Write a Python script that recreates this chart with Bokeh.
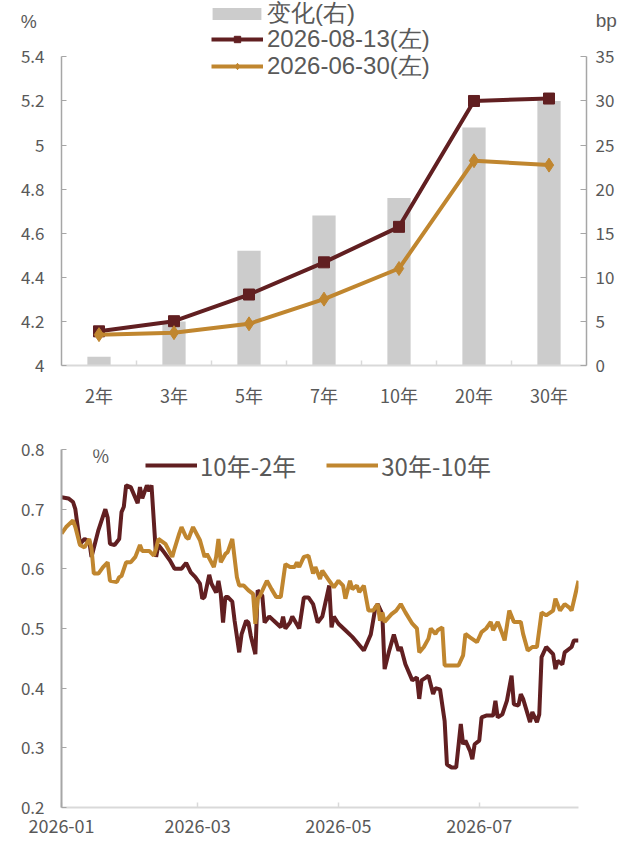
import pandas as pd
from bokeh.plotting import figure
from bokeh.models import (Range1d, LinearAxis, FixedTicker, Legend, LegendItem,
                          Label, DatetimeTickFormatter)
from bokeh.embed import file_html
from bokeh.resources import INLINE

# ---------------- data: top chart ----------------
tenors = ["2年", "3年", "5年", "7年", "10年", "20年", "30年"]
yield_0813 = [4.155, 4.201, 4.322, 4.468, 4.629, 5.200, 5.211]
yield_0630 = [4.140, 4.149, 4.189, 4.301, 4.440, 4.929, 4.909]
change_bp = [1, 5, 13, 17, 19, 27, 30]
left_tick_labels = ["4", "4.2", "4.4", "4.6", "4.8", "5", "5.2", "5.4"]
right_tick_labels = ["0", "5", "10", "15", "20", "25", "30", "35"]
series_names_top = ["变化(右)", "2026-08-13(左)", "2026-06-30(左)"]

# ---------------- data: bottom chart ----------------
dates_10y2y = [
    "2026-01-01", "2026-01-04", "2026-01-06", "2026-01-07", "2026-01-09", "2026-01-11", "2026-01-13",
    "2026-01-14", "2026-01-17", "2026-01-20", "2026-01-21", "2026-01-22", "2026-01-24", "2026-01-26",
    "2026-01-27", "2026-01-28", "2026-01-29", "2026-01-31",
    "2026-02-03", "2026-02-04", "2026-02-05", "2026-02-07", "2026-02-08", "2026-02-09", "2026-02-11",
    "2026-02-12", "2026-02-14", "2026-02-17", "2026-02-19", "2026-02-22", "2026-02-24", "2026-02-26",
    "2026-02-28",
    "2026-03-02", "2026-03-03", "2026-03-04", "2026-03-06", "2026-03-07", "2026-03-09", "2026-03-10",
    "2026-03-11", "2026-03-12", "2026-03-13", "2026-03-14", "2026-03-16", "2026-03-17", "2026-03-19",
    "2026-03-20", "2026-03-22", "2026-03-23", "2026-03-24", "2026-03-26", "2026-03-27", "2026-03-29",
    "2026-03-30",
    "2026-04-01", "2026-04-03", "2026-04-06", "2026-04-07", "2026-04-08", "2026-04-10", "2026-04-11",
    "2026-04-14", "2026-04-16", "2026-04-18", "2026-04-20", "2026-04-22", "2026-04-24", "2026-04-27",
    "2026-04-28", "2026-04-29",
    "2026-05-01", "2026-05-04", "2026-05-07", "2026-05-09", "2026-05-12", "2026-05-13", "2026-05-15",
    "2026-05-17", "2026-05-18", "2026-05-20", "2026-05-21", "2026-05-23", "2026-05-25", "2026-05-27",
    "2026-05-28", "2026-05-30",
    "2026-06-02", "2026-06-04", "2026-06-05", "2026-06-06", "2026-06-08", "2026-06-09", "2026-06-11",
    "2026-06-12", "2026-06-14", "2026-06-16", "2026-06-17", "2026-06-19", "2026-06-21", "2026-06-23",
    "2026-06-24", "2026-06-25", "2026-06-27", "2026-06-28", "2026-06-29",
    "2026-07-01", "2026-07-02", "2026-07-04", "2026-07-07", "2026-07-08", "2026-07-09", "2026-07-11",
    "2026-07-13", "2026-07-15", "2026-07-16", "2026-07-18", "2026-07-19", "2026-07-20", "2026-07-22",
    "2026-07-23", "2026-07-24", "2026-07-26", "2026-07-27", "2026-07-28", "2026-07-30",
    "2026-08-02", "2026-08-03", "2026-08-04", "2026-08-06", "2026-08-07", "2026-08-10", "2026-08-11",
    "2026-08-13",
]
spread_10y2y = [
    0.72, 0.718, 0.712, 0.70, 0.642, 0.65, 0.647, 0.62, 0.665, 0.70, 0.686, 0.642, 0.64, 0.65,
    0.695, 0.704, 0.74, 0.737,
    0.71, 0.737, 0.718, 0.74, 0.73, 0.74, 0.62, 0.64, 0.63, 0.614, 0.60, 0.60, 0.61, 0.594, 0.586,
    0.575, 0.55, 0.553, 0.59, 0.575, 0.56, 0.58, 0.558, 0.51, 0.553, 0.553, 0.545, 0.513, 0.46,
    0.49, 0.513, 0.51, 0.488, 0.457, 0.564, 0.555, 0.51,
    0.52, 0.513, 0.502, 0.52, 0.50, 0.51, 0.52, 0.50, 0.552, 0.552, 0.541, 0.51, 0.52, 0.572,
    0.502, 0.52,
    0.508, 0.497, 0.486, 0.477, 0.463, 0.472, 0.49, 0.535, 0.541, 0.524, 0.432, 0.463, 0.49,
    0.463, 0.469, 0.44,
    0.413, 0.418, 0.382, 0.413, 0.418, 0.421, 0.39, 0.40, 0.398, 0.345, 0.272, 0.267, 0.267,
    0.34, 0.306, 0.312, 0.295, 0.281, 0.306,
    0.312, 0.351, 0.354, 0.354, 0.379, 0.351, 0.356, 0.379, 0.421, 0.373, 0.371, 0.39, 0.382,
    0.356, 0.343, 0.36, 0.343, 0.356, 0.452, 0.469,
    0.457, 0.432, 0.446, 0.44, 0.46, 0.469, 0.48, 0.48,
]
dates_30y10y = [
    "2026-01-01", "2026-01-03", "2026-01-06", "2026-01-07", "2026-01-09", "2026-01-11", "2026-01-13",
    "2026-01-14", "2026-01-15", "2026-01-17", "2026-01-19", "2026-01-21", "2026-01-22", "2026-01-25",
    "2026-01-26", "2026-01-27", "2026-01-29", "2026-01-31",
    "2026-02-02", "2026-02-04", "2026-02-05", "2026-02-08", "2026-02-10", "2026-02-11", "2026-02-12",
    "2026-02-15", "2026-02-18", "2026-02-19", "2026-02-21", "2026-02-22", "2026-02-24", "2026-02-25",
    "2026-02-27",
    "2026-03-02", "2026-03-04", "2026-03-05", "2026-03-08", "2026-03-09", "2026-03-10", "2026-03-11",
    "2026-03-13", "2026-03-14", "2026-03-16", "2026-03-18", "2026-03-19", "2026-03-21", "2026-03-23",
    "2026-03-25", "2026-03-26", "2026-03-27", "2026-03-28", "2026-03-31",
    "2026-04-02", "2026-04-04", "2026-04-06", "2026-04-08", "2026-04-10", "2026-04-12", "2026-04-13",
    "2026-04-14", "2026-04-16", "2026-04-18", "2026-04-20", "2026-04-21", "2026-04-23", "2026-04-24",
    "2026-04-27", "2026-04-29",
    "2026-05-01", "2026-05-03", "2026-05-04", "2026-05-06", "2026-05-07", "2026-05-09", "2026-05-10",
    "2026-05-12", "2026-05-14", "2026-05-16", "2026-05-18", "2026-05-19", "2026-05-20", "2026-05-21",
    "2026-05-24", "2026-05-26", "2026-05-28", "2026-05-30",
    "2026-06-02", "2026-06-04", "2026-06-05", "2026-06-07", "2026-06-09", "2026-06-10", "2026-06-12",
    "2026-06-13", "2026-06-15", "2026-06-16", "2026-06-22", "2026-06-24", "2026-06-25", "2026-06-27",
    "2026-06-30",
    "2026-07-02", "2026-07-04", "2026-07-06", "2026-07-07", "2026-07-09", "2026-07-11", "2026-07-12",
    "2026-07-14", "2026-07-16", "2026-07-19", "2026-07-20", "2026-07-22", "2026-07-24", "2026-07-26",
    "2026-07-28", "2026-07-30",
    "2026-08-02", "2026-08-03", "2026-08-05", "2026-08-07", "2026-08-09", "2026-08-10", "2026-08-13",
]
spread_30y10y = [
    0.659, 0.67, 0.681, 0.67, 0.64, 0.636, 0.65, 0.634, 0.592, 0.592, 0.603, 0.611, 0.58, 0.578,
    0.586, 0.588, 0.611, 0.611,
    0.62, 0.64, 0.63, 0.63, 0.622, 0.634, 0.65, 0.642, 0.62, 0.634, 0.659, 0.67, 0.653, 0.65, 0.67,
    0.648, 0.62, 0.625, 0.603, 0.62, 0.65, 0.611, 0.625, 0.628, 0.65, 0.586, 0.572, 0.572, 0.564,
    0.558, 0.508, 0.55, 0.555, 0.58,
    0.566, 0.553, 0.553, 0.608, 0.603, 0.603, 0.611, 0.603, 0.62, 0.622, 0.592, 0.603, 0.583,
    0.597, 0.58, 0.569,
    0.58, 0.572, 0.55, 0.58, 0.566, 0.572, 0.561, 0.572, 0.53, 0.53, 0.541, 0.513, 0.527, 0.511,
    0.524, 0.53, 0.541, 0.527,
    0.508, 0.50, 0.46, 0.469, 0.483, 0.50, 0.491, 0.497, 0.502, 0.438, 0.438, 0.455, 0.491, 0.485,
    0.477,
    0.494, 0.50, 0.511, 0.497, 0.511, 0.491, 0.48, 0.53, 0.511, 0.511, 0.491, 0.463, 0.469, 0.469,
    0.527, 0.522,
    0.53, 0.55, 0.53, 0.541, 0.535, 0.53, 0.58,
]
bottom_x_tick_labels = ["2026-01", "2026-03", "2026-05", "2026-07"]
bottom_y_tick_labels = ["0.2", "0.3", "0.4", "0.5", "0.6", "0.7", "0.8"]
series_names_bottom = ["10年-2年", "30年-10年"]

# ---------------- styles ----------------
MAROON = "#611f21"
ORANGE = "#c0862f"
BAR = "#cccccc"
TXT = "#595959"
AX_DARK = "#a6a6a6"
AX_LIGHT = "#d9d9d9"
FONT = "Noto Sans CJK SC"
COMPACT = "Liberation Sans"   # smaller line box: keeps stacked legend rows / side labels compact

# ================= top chart =================
W = 638
H1 = 410
F1_LEFT, F1_RIGHT, F1_BOTTOM = 61, 590, 369
AXIS_TOP_GAP = 57          # pixels between canvas top and the 5.4 / 35 level
y_lo, y_hi = float(left_tick_labels[0]), float(left_tick_labels[-1])
b_lo, b_hi = float(right_tick_labels[0]), float(right_tick_labels[-1])
px_per_y = (F1_BOTTOM - AXIS_TOP_GAP) / (y_hi - y_lo)
px_per_b = (F1_BOTTOM - AXIS_TOP_GAP) / (b_hi - b_lo)
px_per_x = (F1_RIGHT - F1_LEFT) / len(tenors)

xs = [i + 0.5 for i in range(len(tenors))]
p1 = figure(width=W, height=H1, output_backend="svg", toolbar_location=None,
            x_range=Range1d(0, len(tenors)),
            y_range=Range1d(y_lo, y_hi + AXIS_TOP_GAP / px_per_y),
            min_border_left=F1_LEFT, min_border_right=W - F1_RIGHT,
            min_border_top=0, min_border_bottom=H1 - F1_BOTTOM,
            x_axis_location=None, y_axis_location=None)
p1.outline_line_color = None
p1.xgrid.visible = False
p1.ygrid.visible = False
p1.extra_y_ranges = {"bp": Range1d(b_lo, b_hi + AXIS_TOP_GAP / px_per_b)}

bars = p1.vbar(x=xs, top=change_bp, width=0.31, y_range_name="bp",
               fill_color=BAR, line_color=None)
l1 = p1.line(xs, yield_0813, line_color=MAROON, line_width=4)
m1 = p1.scatter(xs, yield_0813, marker="square", size=11, fill_color=MAROON, line_color=MAROON)
l2 = p1.line(xs, yield_0630, line_color=ORANGE, line_width=4)
m2 = p1.scatter(xs, yield_0630, marker="diamond", size=14, fill_color=ORANGE, line_color=ORANGE)

xax = LinearAxis(ticker=FixedTicker(ticks=xs, minor_ticks=list(range(1, len(tenors)))))
xax.major_label_overrides = {x: t for x, t in zip(xs, tenors)}
xax.major_tick_line_color = None
xax.minor_tick_in = 5
xax.minor_tick_out = 0
xax.minor_tick_line_color = AX_LIGHT
xax.minor_tick_line_width = 1.5
xax.axis_line_color = AX_LIGHT
xax.axis_line_width = 2
xax.major_label_standoff = 10
xax.major_label_text_font = FONT
xax.major_label_text_font_size = "18px"
xax.major_label_text_color = TXT
p1.add_layout(xax, "below")

yl = LinearAxis(ticker=FixedTicker(ticks=[float(t) for t in left_tick_labels], minor_ticks=[]),
                bounds=(y_lo, y_hi))
yl.major_label_overrides = {float(t): t for t in left_tick_labels}
yl.major_tick_in = 5
yl.major_tick_out = 0
yl.major_tick_line_color = AX_DARK
yl.axis_line_color = AX_DARK
yl.axis_line_width = 1.5
yl.major_label_standoff = 17
yl.major_label_text_font = FONT
yl.major_label_text_font_size = "17px"
yl.major_label_text_color = TXT
p1.add_layout(yl, "left")

yr = LinearAxis(y_range_name="bp",
                ticker=FixedTicker(ticks=[float(t) for t in right_tick_labels], minor_ticks=[]),
                bounds=(b_lo, b_hi))
yr.major_label_overrides = {float(t): t for t in right_tick_labels}
yr.major_tick_in = 6
yr.major_tick_out = 0
yr.major_tick_line_color = AX_DARK
yr.axis_line_color = AX_DARK
yr.axis_line_width = 1.5
yr.major_label_standoff = 9
yr.major_label_text_font = FONT
yr.major_label_text_font_size = "17px"
yr.major_label_text_color = TXT
p1.add_layout(yr, "right")

# one legend per row, so that rows sit as close as in the reference
ROW_H = 38
row_centers = [17, 43, 70]
glyph_w = [61, 52, 52]
glyph_x = [206, 211, 211]
standoffs = [0, 4, 4]
glyph_h = [15, 16, 16]
for name, rends, cy, gw, gx, so, gh in zip(series_names_top, [[bars], [l1, m1], [l2, m2]],
                                            row_centers, glyph_w, glyph_x, standoffs, glyph_h):
    lg = Legend(items=[LegendItem(label=name, renderers=rends)],
                location=(gx - F1_LEFT, F1_BOTTOM - cy - ROW_H / 2),
                orientation="vertical",
                label_text_font=COMPACT, label_text_font_size="24px", label_text_color=TXT,
                glyph_width=gw, glyph_height=gh, label_height=ROW_H, label_standoff=so,
                spacing=0, padding=0, margin=0, border_line_color=None,
                background_fill_alpha=0)
    p1.add_layout(lg)

# unit labels live in side panels (not clipped by the frame)
p1.add_layout(Label(x=(28 - F1_LEFT) / px_per_x, y=y_hi + (AXIS_TOP_GAP - 22) / px_per_y,
                    text="%", text_align="center", text_baseline="middle",
                    text_font=COMPACT, text_font_size="18px", text_color=TXT), "left")
p1.add_layout(Label(x=len(tenors) + (610 - F1_RIGHT) / px_per_x,
                    y=y_hi + (AXIS_TOP_GAP - 20) / px_per_y, text="bp", text_align="center",
                    text_baseline="middle", text_font=COMPACT, text_font_size="19px",
                    text_color=TXT), "right")

# ================= bottom chart =================
H2 = 437
F2_LEFT, F2_RIGHT, F2_TOP, F2_BOTTOM = 61, 578, 39, 397
d1 = pd.to_datetime(dates_10y2y)
d2 = pd.to_datetime(dates_30y10y)
x_start = min(d1[0], d2[0])
x_end = max(d1[-1], d2[-1])

p2 = figure(width=W, height=H2, output_backend="svg", toolbar_location=None,
            x_axis_type="datetime", x_range=Range1d(x_start, x_end),
            y_range=Range1d(float(bottom_y_tick_labels[0]), float(bottom_y_tick_labels[-1])),
            min_border_left=F2_LEFT, min_border_right=W - F2_RIGHT,
            min_border_top=F2_TOP, min_border_bottom=H2 - F2_BOTTOM,
            x_axis_location=None, y_axis_location=None)
p2.outline_line_color = None
p2.xgrid.visible = False
p2.ygrid.visible = False

r1 = p2.line(d1, spread_10y2y, line_color=MAROON, line_width=4)
r2 = p2.line(d2, spread_30y10y, line_color=ORANGE, line_width=4)

tick_ms = [pd.Timestamp(t + "-01").value / 1e6 for t in bottom_x_tick_labels]
bx = LinearAxis(ticker=FixedTicker(ticks=tick_ms, minor_ticks=[]))
bx.formatter = DatetimeTickFormatter(days="%Y-%m", months="%Y-%m", years="%Y-%m")
bx.major_label_overrides = {ms: t for ms, t in zip(tick_ms, bottom_x_tick_labels)}
bx.major_tick_in = 5
bx.major_tick_out = 0
bx.major_tick_line_color = AX_LIGHT
bx.major_tick_line_width = 1.5
bx.axis_line_color = AX_LIGHT
bx.axis_line_width = 2
bx.major_label_standoff = 11
bx.major_label_text_font = FONT
bx.major_label_text_font_size = "18px"
bx.major_label_text_color = TXT
p2.add_layout(bx, "below")

by = LinearAxis(ticker=FixedTicker(ticks=[float(t) for t in bottom_y_tick_labels], minor_ticks=[]))
by.major_label_overrides = {float(t): t for t in bottom_y_tick_labels}
by.major_tick_in = 5
by.major_tick_out = 0
by.major_tick_line_color = AX_DARK
by.axis_line_color = AX_DARK
by.axis_line_width = 2
by.major_label_standoff = 17
by.major_label_text_font = FONT
by.major_label_text_font_size = "17px"
by.major_label_text_color = TXT
p2.add_layout(by, "left")

LEG2_H = 36
leg2 = Legend(items=[LegendItem(label=series_names_bottom[0], renderers=[r1]),
                     LegendItem(label=series_names_bottom[1], renderers=[r2])],
              location=(145 - F2_LEFT, F2_BOTTOM - (465 - H1) - LEG2_H / 2),
              orientation="horizontal",
              label_text_font=FONT, label_text_font_size="24px", label_text_color=TXT,
              glyph_width=52, glyph_height=30, label_height=LEG2_H, label_standoff=3,
              spacing=30, padding=0, margin=0, border_line_color=None,
              background_fill_alpha=0)
p2.add_layout(leg2)

p2.add_layout(Label(x=x_start + pd.Timedelta(days=17), y=0.79, text="%", text_align="center",
                    text_baseline="middle", text_font=FONT, text_font_size="18px",
                    text_color=TXT))

open("out.html", "w").write(file_html([p1, p2], INLINE))
